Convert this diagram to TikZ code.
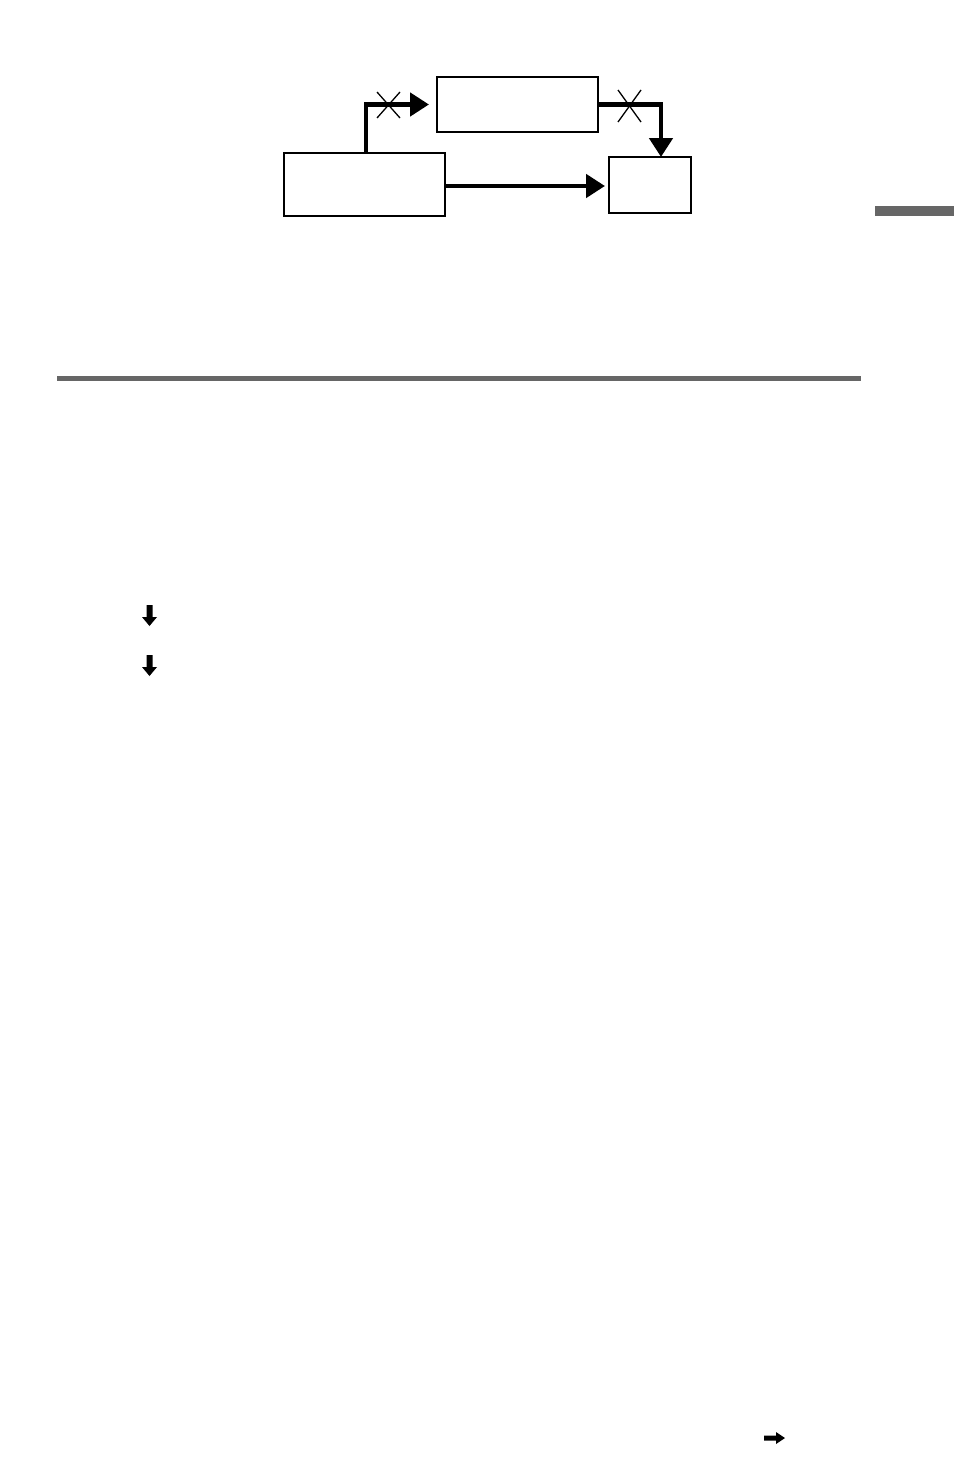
\documentclass[tikz,border=0pt]{standalone}
\usetikzlibrary{arrows.meta}
\definecolor{bargray}{HTML}{666666}
\begin{document}
\begin{tikzpicture}[x=1pt,y=-1pt,
  box/.style={draw=black,line width=1.6pt,fill=white,inner sep=0pt,outer sep=0pt,rectangle},
  conn/.style={line width=4.7pt,-{Triangle[length=19pt,width=23pt]}},
  crossmark/.style={line width=1.3pt,black},
  smallarrow/.style={fill=black,draw=none}]
\useasboundingbox (0,0) rectangle (954,1483);
\fill[white] (0,0) rectangle (954,1483);
% boxes
\node[box,minimum width=161pt,minimum height=63pt] (A) at (364.5,184.5) {};
\node[box,minimum width=161pt,minimum height=55pt] (B) at (517.5,104.5) {};
\node[box,minimum width=82pt,minimum height=56pt] (C) at (650,185) {};
% connectors
\draw[conn,shorten >=8pt] ([xshift=1.5pt]A.north) |- (B.west);
\draw[conn] (B.east) -| ([xshift=11pt]C.north);
\coordinate (aout) at ([yshift=-1.5pt]A.east);
\draw[conn,shorten >=4pt] (aout) -- (aout -| C.west);
% cross marks
\coordinate (x1) at (388.5,105);
\coordinate (x2) at (629.5,106);
\draw[crossmark] ([shift={(-11.5,-13)}]x1) -- ([shift={(11.5,13)}]x1);
\draw[crossmark] ([shift={(11.5,-13)}]x1) -- ([shift={(-11.5,13)}]x1);
\draw[crossmark] ([shift={(-11.5,-16)}]x2) -- ([shift={(11.5,16)}]x2);
\draw[crossmark] ([shift={(11.5,-16)}]x2) -- ([shift={(-11.5,16)}]x2);
% gray rules
\fill[bargray] (57,376) rectangle (861,381);
\fill[bargray] (875,206) rectangle (954,216);
% small down arrows
\fill[smallarrow] (146.5,605) -- (152.5,605) -- (152.5,617) -- (157,617) -- (149.5,626) -- (142,617) -- (146.5,617) -- cycle;
\fill[smallarrow] (146.5,655) -- (152.5,655) -- (152.5,667) -- (157,667) -- (149.5,676) -- (142,667) -- (146.5,667) -- cycle;
% small right arrow
\fill[smallarrow] (764,1435.5) -- (776,1435.5) -- (776,1432) -- (785,1438) -- (776,1444) -- (776,1440.5) -- (764,1440.5) -- cycle;
\end{tikzpicture}
\end{document}
